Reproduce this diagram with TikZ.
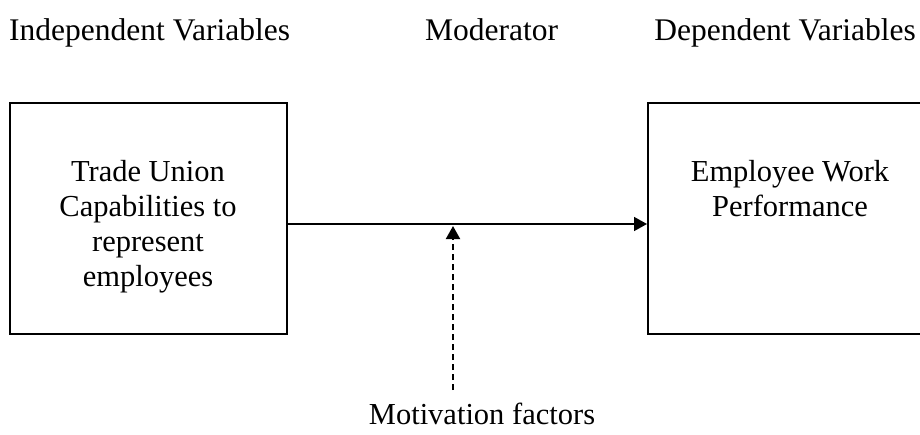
\documentclass[tikz,border=0pt]{standalone}
\usepackage{fontspec}
\setmainfont{Liberation Serif}
\usetikzlibrary{arrows.meta}
\begin{document}
\begin{tikzpicture}[x=1pt,y=-1pt,
  lbl/.style={inner sep=0pt,font=\fontsize{30.5}{34}\selectfont},
  head/.style={inner sep=0pt,font=\fontsize{31.5}{34}\selectfont},
  boxtext/.style={inner sep=0pt,align=center,font=\fontsize{30.5}{35}\selectfont},
  frame/.style={draw,line width=1.8pt},
  tip/.style={-{Triangle[length=13pt,width=14pt]}},
  ]
\useasboundingbox (0,0) rectangle (920,434);
\clip (0,0) rectangle (920,434);
% headings
\node[head,anchor=base west] (iv) at (9,40) {Independent Variables};
\node[head,anchor=base west] (mod) at (425,40) {Moderator};
\node[head,anchor=base east] (dv) at (916,40) {Dependent Variables};
% boxes
\node[frame,minimum width=277pt,minimum height=231pt,anchor=north west,inner sep=0pt] (L) at (9,102) {};
\node[frame,minimum width=300pt,minimum height=231pt,anchor=north west,inner sep=0pt] (R) at (647,102) {};
\node[boxtext,anchor=north] (lt) at (148,160) {Trade Union\\Capabilities to\\represent\\employees};
\node[boxtext,anchor=north] (rt) at (790,160) {Employee Work\\Performance};
% connectors
\coordinate (mid) at (453,224);
\draw[line width=1.6pt,tip] (L.east |- mid) -- (R.west |- mid);
\coordinate (dstart) at (453,390);
\node[lbl,anchor=base] (mot) at (482,424) {Motivation factors};
\draw[line width=2pt,dash pattern=on 6pt off 4pt,tip] (dstart) -- (453,226);
\end{tikzpicture}
\end{document}
